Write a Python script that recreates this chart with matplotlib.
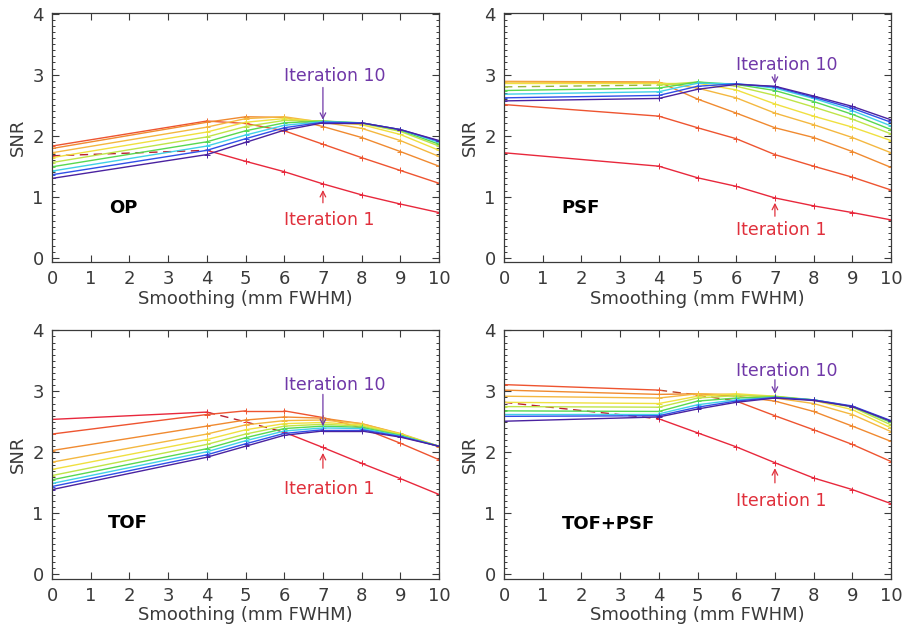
import numpy as np
import matplotlib
matplotlib.use('Agg')
from matplotlib import pyplot as plt
from matplotlib.colors import to_rgb

# smoothing values (mm FWHM) where SNR was computed
smoothing = [0, 4, 5, 6, 7, 8, 9, 10]

# SNR for iterations 1..10, one list per iteration
snr_op = [
    [1.67, 1.76, 1.58, 1.41, 1.21, 1.03, 0.88, 0.74],
    [1.83, 2.24, 2.20, 2.08, 1.86, 1.64, 1.43, 1.22],
    [1.79, 2.22, 2.31, 2.30, 2.15, 1.97, 1.74, 1.50],
    [1.72, 2.14, 2.28, 2.31, 2.22, 2.12, 1.92, 1.66],
    [1.64, 2.06, 2.22, 2.28, 2.23, 2.18, 2.02, 1.76],
    [1.56, 1.98, 2.15, 2.25, 2.24, 2.20, 2.07, 1.83],
    [1.49, 1.90, 2.08, 2.21, 2.24, 2.21, 2.09, 1.86],
    [1.42, 1.83, 2.01, 2.17, 2.23, 2.21, 2.10, 1.89],
    [1.36, 1.76, 1.95, 2.13, 2.22, 2.21, 2.10, 1.91],
    [1.30, 1.69, 1.89, 2.09, 2.21, 2.21, 2.10, 1.92],
]
snr_psf = [
    [1.72, 1.50, 1.31, 1.17, 0.98, 0.85, 0.74, 0.62],
    [2.51, 2.32, 2.13, 1.95, 1.69, 1.50, 1.32, 1.11],
    [2.89, 2.88, 2.60, 2.37, 2.13, 1.97, 1.74, 1.48],
    [2.88, 2.87, 2.78, 2.62, 2.37, 2.18, 1.97, 1.72],
    [2.86, 2.86, 2.86, 2.75, 2.52, 2.32, 2.14, 1.92],
    [2.80, 2.83, 2.88, 2.81, 2.66, 2.47, 2.27, 2.03],
    [2.74, 2.78, 2.88, 2.84, 2.74, 2.56, 2.35, 2.10],
    [2.68, 2.72, 2.86, 2.85, 2.78, 2.61, 2.41, 2.16],
    [2.62, 2.66, 2.81, 2.85, 2.80, 2.63, 2.45, 2.22],
    [2.57, 2.61, 2.76, 2.84, 2.81, 2.65, 2.48, 2.26],
]
snr_tof = [
    [2.54, 2.66, 2.50, 2.33, 2.08, 1.82, 1.57, 1.31],
    [2.30, 2.62, 2.68, 2.68, 2.57, 2.40, 2.15, 1.88],
    [2.03, 2.43, 2.53, 2.58, 2.56, 2.47, 2.30, 2.09],
    [1.84, 2.30, 2.45, 2.52, 2.53, 2.47, 2.31, 2.10],
    [1.72, 2.21, 2.37, 2.47, 2.49, 2.45, 2.30, 2.10],
    [1.62, 2.13, 2.30, 2.43, 2.46, 2.43, 2.29, 2.10],
    [1.55, 2.06, 2.24, 2.39, 2.43, 2.41, 2.28, 2.10],
    [1.49, 2.01, 2.19, 2.35, 2.40, 2.39, 2.27, 2.10],
    [1.44, 1.96, 2.14, 2.31, 2.37, 2.37, 2.26, 2.10],
    [1.39, 1.92, 2.10, 2.28, 2.35, 2.35, 2.25, 2.10],
]
snr_tofpsf = [
    [2.82, 2.55, 2.32, 2.09, 1.83, 1.58, 1.39, 1.16],
    [3.11, 3.02, 2.94, 2.84, 2.60, 2.37, 2.13, 1.85],
    [3.02, 2.95, 2.96, 2.92, 2.84, 2.67, 2.43, 2.18],
    [2.92, 2.89, 2.96, 2.95, 2.89, 2.80, 2.62, 2.34],
    [2.82, 2.80, 2.92, 2.96, 2.92, 2.85, 2.70, 2.40],
    [2.75, 2.74, 2.89, 2.93, 2.92, 2.86, 2.74, 2.45],
    [2.68, 2.67, 2.84, 2.89, 2.91, 2.86, 2.75, 2.49],
    [2.63, 2.63, 2.78, 2.86, 2.90, 2.86, 2.75, 2.51],
    [2.59, 2.60, 2.74, 2.84, 2.90, 2.86, 2.76, 2.52],
    [2.51, 2.58, 2.71, 2.82, 2.89, 2.85, 2.75, 2.51],
]

panel_names = ['OP', 'PSF', 'TOF', 'TOF+PSF']
panel_data = [snr_op, snr_psf, snr_tof, snr_tofpsf]

# label positions (x, y) in data units: name, "Iteration 10" text, "Iteration 1" text
name_pos = [(1.84, 0.82), (1.99, 0.82), (1.97, 0.84), (2.71, 0.83)]
it10_text = [2.97, 3.16, 3.11, 3.33]
it10_arrow = [(2.79, 2.26), (3.00, 2.85), (2.95, 2.43), (3.19, 2.96)]
it1_text = [0.62, 0.46, 1.40, 1.20]
it1_arrow = [(0.90, 1.11), (0.68, 0.90), (1.74, 1.99), (1.50, 1.74)]

# segments drawn dashed: (iteration index, segment index)
dashed = [{(0, 0)}, {(5, 0)}, {(0, 1), (0, 2)}, {(0, 0), (1, 1), (1, 2)}]

colors = ['#e8283c', '#ee5430', '#f08a30', '#f4b840', '#f0e040',
          '#c0e448', '#58d850', '#40d0e8', '#3050e8', '#4a22a0']

red_txt = '#e0303c'
purple_txt = '#7038a8'
grey = '#3a3a3a'

fig = plt.figure(figsize=(9.08, 6.35), dpi=100)
positions = [[0.0573, 0.5874, 0.4262, 0.3921],
             [0.5551, 0.5874, 0.4262, 0.3921],
             [0.0573, 0.0887, 0.4262, 0.3921],
             [0.5551, 0.0887, 0.4262, 0.3921]]

for k in range(4):
    ax = fig.add_axes(positions[k])
    data = panel_data[k]
    for it in range(10):
        y = data[it]
        for j in range(len(smoothing) - 1):
            if (it, j) in dashed[k]:
                c = tuple(0.8 * v for v in to_rgb(colors[it]))
                ax.plot(smoothing[j:j + 2], y[j:j + 2], color=c, lw=1.0,
                        ls=(0, (6, 4)))
            else:
                ax.plot(smoothing[j:j + 2], y[j:j + 2], color=colors[it], lw=1.0)
        ax.plot(smoothing, y, ls='none', marker='+', ms=4, mew=0.7, color=colors[it])

    ax.set_xlim(0, 10)
    ax.set_ylim(-0.07, 4.01)
    ax.set_xticks(range(0, 11))
    ax.set_yticks(range(0, 5))
    ax.set_yticks(np.arange(0, 4.01, 0.1), minor=True)
    ax.tick_params(axis='both', which='major', direction='in', top=True, right=True,
                   length=5, width=0.8, color=grey, labelsize=13, labelcolor=grey, pad=6)
    ax.tick_params(axis='y', which='minor', direction='in', left=True, right=True,
                   length=2.5, width=0.7, color=grey)
    for s in ax.spines.values():
        s.set_color(grey)
        s.set_linewidth(0.9)
    ax.set_xlabel('Smoothing (mm FWHM)', fontsize=13, color=grey, labelpad=1)
    ax.set_ylabel('SNR', fontsize=13, color=grey, labelpad=4)

    ax.text(name_pos[k][0], name_pos[k][1], panel_names[k], fontsize=13,
            fontweight='bold', color='black', ha='center', va='center')

    ax.text(6.0, it10_text[k], 'Iteration 10', fontsize=12.5, color=purple_txt,
            ha='left', va='center')
    ax.annotate('', xy=(7, it10_arrow[k][1]), xytext=(7, it10_arrow[k][0]),
                arrowprops=dict(arrowstyle='->', color=purple_txt, lw=0.9,
                                shrinkA=0, shrinkB=0))
    ax.text(6.0, it1_text[k], 'Iteration 1', fontsize=12.5, color=red_txt,
            ha='left', va='center')
    ax.annotate('', xy=(7, it1_arrow[k][1]), xytext=(7, it1_arrow[k][0]),
                arrowprops=dict(arrowstyle='->', color=red_txt, lw=0.9,
                                shrinkA=0, shrinkB=0))

plt.savefig('out.png', dpi=100)
